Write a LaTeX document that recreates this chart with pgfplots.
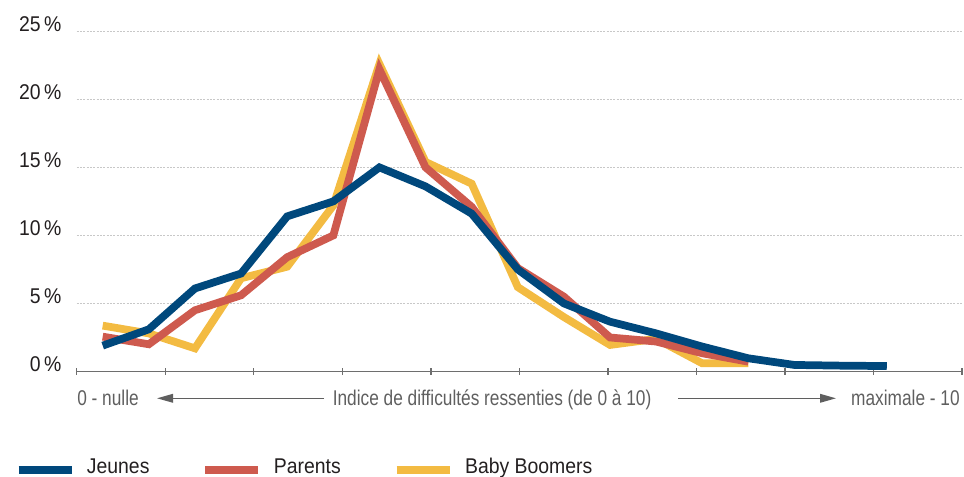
\documentclass[border=0pt]{standalone}
\usepackage{fontspec}
\setmainfont{Liberation Sans}[FakeStretch=0.91]
\newfontfamily\condfont{Liberation Sans}[FakeStretch=0.81]
\usepackage{pgfplots}
\pgfplotsset{compat=1.18}
\usetikzlibrary{arrows.meta}
\definecolor{cblue}{RGB}{0,72,124}
\definecolor{cred}{RGB}{206,90,78}
\definecolor{cyellow}{RGB}{243,187,66}
\definecolor{cgrid}{RGB}{200,200,200}
\definecolor{caxis}{RGB}{110,110,110}
\definecolor{ctext}{RGB}{35,31,32}
\definecolor{clabel}{RGB}{95,95,95}

\begin{document}
\begin{tikzpicture}[font=\fontsize{16pt}{19pt}\selectfont]
\path[use as bounding box] (0,0) rectangle (723pt,357.75pt);
\begin{axis}[
  at={(57.525pt,79.125pt)}, anchor=south west,
  scale only axis, width=664pt, height=255.15pt,
  xmin=-0.564, xmax=18.632, ymin=0, ymax=25,
  axis x line*=bottom, axis y line*=left,
  y axis line style={draw=none},
  x axis line style={draw=caxis, line width=1.1pt},
  xtick={-0.564,1.356,3.275,5.195,7.115,9.034,10.954,12.873,14.793,16.712,18.632},
  xticklabels={},
  x tick style={draw=caxis, line width=1.1pt},
  major tick length=5.25pt, xtick align=center,
  ytick={0,5,10,15,20,25},
  yticklabels={0\,\%,5\,\%,10\,\%,15\,\%,20\,\%,25\,\%},
  y tick style={draw=none},
  yticklabel style={anchor=base east, inner sep=0pt, xshift=-11.25pt, text=ctext},
  ymajorgrids, grid style={draw=cgrid, line width=0.6pt, dash pattern=on 1.5pt off 1pt},
  legend columns=3,
  legend style={at={(-0.0705,-0.2815)}, anchor=west, draw=none, fill=none, inner sep=0pt,
    font=\fontsize{16pt}{19pt}\selectfont, text=ctext,
    /tikz/every odd column/.append style={column sep=6.5pt},
    /tikz/every even column/.append style={column sep=37pt}},
  legend image code/.code={\draw[#1] (0pt,-2pt) -- (39.75pt,-2pt);},
]
\addlegendimage{cblue, line width=6pt}\addlegendentry{Jeunes}
\addlegendimage{cred, line width=6pt}\addlegendentry{Parents}
\addlegendimage{cyellow, line width=6pt}\addlegendentry{Baby Boomers}

% Baby Boomers
\addplot[cyellow, line width=5.8pt, forget plot] coordinates {
(0,3.37) (1,2.8) (2,1.7) (3,6.85) (4,7.7) (5,12.2) (6,22.6) (7,15.4)
(8,13.8) (9,6.2) (10,4.0) (11,1.95) (12,2.4) (13,0.6) (14,0.6)};
% Parents
\addplot[cred, line width=5.8pt, forget plot] coordinates {
(0,2.56) (1,2.0) (2,4.5) (3,5.6) (4,8.4) (5,10.0) (6,22.2) (7,15.0)
(8,12.1) (9,7.6) (10,5.5) (11,2.5) (12,2.2) (13,1.34) (14,0.72)};
% Jeunes
\addplot[cblue, line width=5.8pt, forget plot] coordinates {
(0,1.9) (1,3.1) (2,6.1) (3,7.2) (4,11.4) (5,12.5) (6,15.0) (7,13.6)
(8,11.6) (9,7.5) (10,5.0) (11,3.66) (12,2.8) (13,1.83) (14,0.97)
(15,0.48) (16,0.43) (17,0.4)};
\end{axis}
\begin{scope}[shift={(0pt,357.75pt)}, x=0.75pt, y=-0.75pt]
  \node[anchor=base west, inner sep=0pt, text=clabel, font=\fontsize{16pt}{19pt}\condfont] at (77,406) {0 - nulle};
  \draw[clabel, line width=1pt, -{Triangle[length=12pt,width=6.5pt]}] (324,398.3) -- (157,398.3);
  \node[anchor=base west, inner sep=0pt, text=clabel, font=\fontsize{16pt}{19pt}\condfont] at (332.5,406) {Indice de difficultés ressenties (de 0 à 10)};
  \draw[clabel, line width=1pt, -{Triangle[length=12pt,width=6.5pt]}] (678,398.3) -- (836,398.3);
  \node[anchor=base east, inner sep=0pt, text=clabel, font=\fontsize{16pt}{19pt}\condfont] at (960,406) {maximale - 10};
\end{scope}
\end{tikzpicture}
\end{document}
